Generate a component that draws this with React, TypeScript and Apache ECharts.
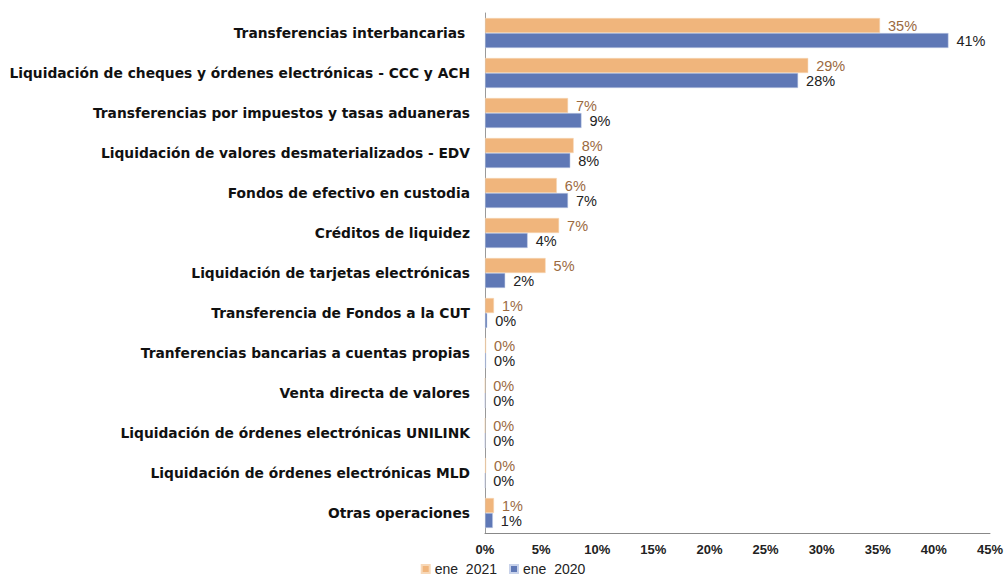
import React, { useEffect, useRef } from "react";
import * as echarts from "echarts";

const categories = [
  "Transferencias interbancarias ",
  "Liquidación de cheques y órdenes electrónicas - CCC y ACH",
  "Transferencias por impuestos y tasas aduaneras",
  "Liquidación de valores desmaterializados - EDV",
  "Fondos de efectivo en custodia",
  "Créditos de liquidez",
  "Liquidación de tarjetas electrónicas",
  "Transferencia de Fondos a la CUT",
  "Tranferencias bancarias a cuentas propias",
  "Venta directa de valores",
  "Liquidación de órdenes electrónicas UNILINK",
  "Liquidación de órdenes electrónicas MLD",
  "Otras operaciones",
];

const ene2021 = [35.2, 28.8, 7.4, 7.9, 6.4, 6.6, 5.4, 0.8, 0.1, 0.0, 0.0, 0.1, 0.8];
const ene2020 = [41.3, 27.9, 8.6, 7.6, 7.4, 3.8, 1.8, 0.2, 0.1, 0.0, 0.0, 0.0, 0.7];

const seriesNames = ["ene  2021", "ene  2020"];
const xTicks = [0, 5, 10, 15, 20, 25, 30, 35, 40, 45];

const FONT = "'Liberation Sans', Arial, sans-serif";
const WIDE = "'DejaVu Sans', 'Liberation Sans', sans-serif";

export default function App() {
  const ref = useRef<HTMLDivElement>(null);
  useEffect(() => {
    document.body.style.margin = "0";
    const chart = echarts.init(ref.current!, null, { renderer: "svg" });
    chart.setOption({
      animation: false,
      textStyle: { fontFamily: FONT },
      grid: { left: 485, right: 14, top: 13, bottom: 45, containLabel: false },
      legend: {
        top: 561,
        left: "center",
        padding: 1,
        itemWidth: 8,
        itemHeight: 8,
        itemGap: 12,
        icon: "rect",
        textStyle: { fontFamily: FONT, fontSize: 14, color: "#222" },
        data: seriesNames,
      },
      xAxis: {
        type: "value",
        min: xTicks[0],
        max: xTicks[xTicks.length - 1],
        interval: 5,
        axisLine: { show: true, lineStyle: { color: "#888", width: 1 } },
        axisTick: { show: false },
        splitLine: { show: false },
        axisLabel: {
          formatter: (v: number) => v + "%",
          fontFamily: FONT,
          fontSize: 13,
          fontWeight: "bold",
          color: "#222",
          margin: 10,
        },
      },
      yAxis: {
        type: "category",
        inverse: true,
        data: categories,
        axisLine: { show: true, lineStyle: { color: "#999", width: 1 } },
        axisTick: { show: false },
        axisLabel: {
          fontFamily: WIDE,
          fontSize: 13.8,
          fontWeight: "bold",
          color: "#111",
          margin: 15,
        },
      },
      series: [
        {
          name: seriesNames[0],
          type: "bar",
          data: ene2021,
          barWidth: 15,
          barGap: "0%",
          itemStyle: { color: "#F0B57C", borderColor: "#f7d8b8", borderWidth: 0.5 },
          label: {
            show: true,
            position: "right",
            distance: 8,
            formatter: (p: any) => Math.round(p.value) + "%",
            fontFamily: FONT,
            fontSize: 14.5,
            color: "#9B6A3F",
          },
        },
        {
          name: seriesNames[1],
          type: "bar",
          data: ene2020,
          barWidth: 15,
          barGap: "0%",
          itemStyle: { color: "#5F78B6", borderColor: "#c8d2ea", borderWidth: 0.5 },
          label: {
            show: true,
            position: "right",
            distance: 8,
            formatter: (p: any) => Math.round(p.value) + "%",
            fontFamily: FONT,
            fontSize: 14.5,
            color: "#222",
          },
        },
      ],
    });
    return () => chart.dispose();
  }, []);
  return <div ref={ref} style={{ width: 1006, height: 578 }} />;
}
